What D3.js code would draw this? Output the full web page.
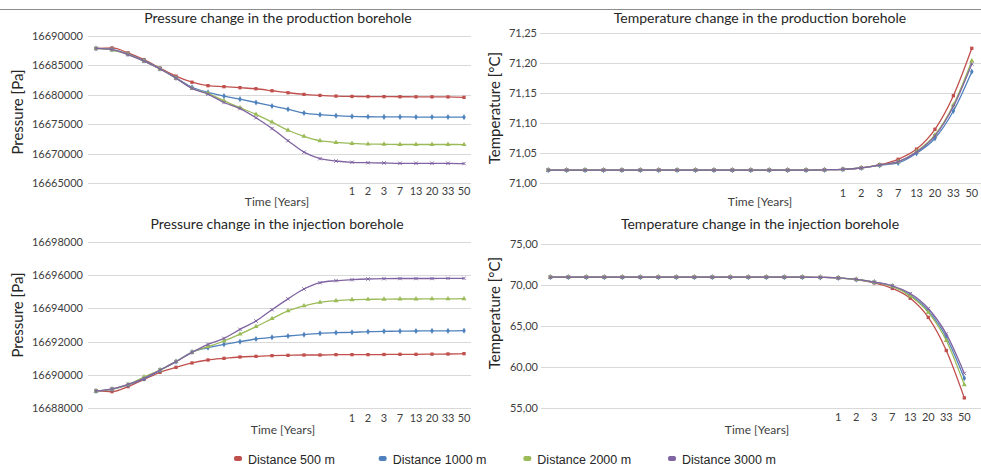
<!DOCTYPE html>
<html>
<head>
<meta charset="utf-8">
<script src="https://cdn.jsdelivr.net/npm/d3@7"></script>
<style>
  body { margin: 0; background: #fff; }
  svg { display: block; font-family: Lato, "Open Sans", sans-serif; }
</style>
</head>
<body>
<script>
/* global d3 */

// Constants
const width = 981;
const height = 466;

// Categories (first 16 steps carry no label)
const timeLabels = ['', '', '', '', '', '', '', '', '', '', '', '', '', '', '', '',
  '1', '2', '3', '7', '13', '20', '33', '50'];
const seriesNames = ['Distance 500 m', 'Distance 1000 m', 'Distance 2000 m', 'Distance 3000 m'];
const colors = ['#C0504D', '#4F81BD', '#9BBB59', '#8064A2'];

// Tick labels
const prodPressureTicks = [16665000, 16670000, 16675000, 16680000, 16685000, 16690000];
const prodTempTicks = [71.00, 71.05, 71.10, 71.15, 71.20, 71.25];
const injPressureTicks = [16688000, 16690000, 16692000, 16694000, 16696000, 16698000];
const injTempTicks = [55, 60, 65, 70, 75];

// Pressure in the production borehole [Pa]
const prodP500 = [16687880, 16687970, 16687140, 16685980, 16684550, 16683170, 16682140, 16681550,
  16681380, 16681210, 16681030, 16680690, 16680350, 16680070, 16679900, 16679780,
  16679720, 16679700, 16679680, 16679670, 16679660, 16679650, 16679640, 16679560];
const prodP1000 = [16687880, 16687700, 16686930, 16685810, 16684430, 16682880, 16681280, 16680410,
  16679780, 16679260, 16678690, 16678100, 16677540, 16676900, 16676620, 16676450,
  16676330, 16676270, 16676240, 16676240, 16676220, 16676220, 16676220, 16676200];
const prodP2000 = [16687880, 16687620, 16686880, 16685720, 16684380, 16682830, 16681100, 16680240,
  16678970, 16677830, 16676670, 16675350, 16673970, 16672930, 16672190, 16671900,
  16671730, 16671620, 16671590, 16671550, 16671550, 16671550, 16671550, 16671540];
const prodP3000 = [16687880, 16687700, 16686840, 16685720, 16684380, 16682830, 16681100, 16680120,
  16678690, 16677660, 16676100, 16674260, 16672190, 16670240, 16669140, 16668740,
  16668520, 16668450, 16668400, 16668350, 16668350, 16668350, 16668350, 16668300];

// Temperature in the production borehole [°C]
const prodT500 = [71.022, 71.022, 71.022, 71.022, 71.022, 71.022, 71.022, 71.022,
  71.022, 71.022, 71.022, 71.022, 71.022, 71.022, 71.022, 71.0225,
  71.0233, 71.0258, 71.031, 71.040, 71.057, 71.090, 71.146, 71.225];
const prodT1000 = [71.022, 71.022, 71.022, 71.022, 71.022, 71.022, 71.022, 71.022,
  71.022, 71.022, 71.022, 71.022, 71.022, 71.022, 71.022, 71.0225,
  71.0233, 71.0255, 71.030, 71.034, 71.050, 71.075, 71.1205, 71.186];
const prodT2000 = [71.022, 71.022, 71.022, 71.022, 71.022, 71.022, 71.022, 71.022,
  71.022, 71.022, 71.022, 71.022, 71.022, 71.022, 71.022, 71.0225,
  71.0233, 71.0255, 71.0305, 71.036, 71.053, 71.0805, 71.1305, 71.204];
const prodT3000 = [71.022, 71.022, 71.022, 71.022, 71.022, 71.022, 71.022, 71.022,
  71.022, 71.022, 71.022, 71.022, 71.022, 71.022, 71.022, 71.0225,
  71.0233, 71.0255, 71.0305, 71.036, 71.052, 71.079, 71.128, 71.199];

// Pressure in the injection borehole [Pa]
const injP500 = [16689040, 16689000, 16689300, 16689740, 16690160, 16690460, 16690720, 16690900,
  16691000, 16691080, 16691120, 16691160, 16691180, 16691200, 16691200, 16691220,
  16691220, 16691220, 16691230, 16691240, 16691240, 16691250, 16691260, 16691280];
const injP1000 = [16689040, 16689140, 16689400, 16689780, 16690280, 16690800, 16691380, 16691640,
  16691840, 16692000, 16692160, 16692260, 16692340, 16692420, 16692500, 16692540,
  16692560, 16692600, 16692620, 16692630, 16692640, 16692650, 16692650, 16692660];
const injP2000 = [16689040, 16689150, 16689420, 16689880, 16690300, 16690800, 16691360, 16691700,
  16692040, 16692450, 16692900, 16693380, 16693850, 16694150, 16694360, 16694460,
  16694520, 16694540, 16694550, 16694560, 16694560, 16694570, 16694570, 16694580];
const injP3000 = [16689040, 16689170, 16689440, 16689800, 16690300, 16690800, 16691360, 16691840,
  16692200, 16692740, 16693240, 16693920, 16694570, 16695160, 16695540, 16695660,
  16695720, 16695760, 16695780, 16695790, 16695790, 16695790, 16695800, 16695800];

// Temperature in the injection borehole [°C]
const injT500 = [70.98, 70.98, 70.98, 70.98, 70.98, 70.98, 70.98, 70.98,
  70.98, 70.98, 70.98, 70.98, 70.98, 70.98, 70.98, 70.95,
  70.89, 70.69, 70.28, 69.60, 68.39, 66.05, 62.00, 56.20];
const injT1000 = [70.98, 70.98, 70.98, 70.98, 70.98, 70.98, 70.98, 70.98,
  70.98, 70.98, 70.98, 70.98, 70.98, 70.98, 70.98, 70.95,
  70.89, 70.69, 70.36, 69.88, 68.75, 66.86, 63.63, 58.60];
const injT2000 = [70.98, 70.98, 70.98, 70.98, 70.98, 70.98, 70.98, 70.98,
  70.98, 70.98, 70.98, 70.98, 70.98, 70.98, 70.98, 70.95,
  70.89, 70.69, 70.36, 69.85, 68.68, 66.66, 63.23, 57.80];
const injT3000 = [70.98, 70.98, 70.98, 70.98, 70.98, 70.98, 70.98, 70.98,
  70.98, 70.98, 70.98, 70.98, 70.98, 70.98, 70.98, 70.95,
  70.89, 70.70, 70.38, 69.92, 68.96, 67.14, 64.03, 59.20];

const markers = [d3.symbolSquare, d3.symbolDiamond, d3.symbolTriangle, d3.symbolTimes];

const commaFormat = (f) => (d) => d3.format(f)(d).replace('.', ',');

// Make main svg
const svg = d3.select('body')
  .append('svg')
  .attr('width', width)
  .attr('height', height);

// Top rule
svg.append('line')
  .attr('x1', 0).attr('x2', width)
  .attr('y1', 9.5).attr('y2', 9.5)
  .attr('stroke', '#8c8c8c')
  .attr('stroke-width', 1);

function drawPanel(cfg) {
  const g = svg.append('g');

  const x = d3.scaleBand()
    .domain(d3.range(timeLabels.length))
    .range(cfg.xRange);
  const y = d3.scaleLinear()
    .domain(d3.extent(cfg.ticks))
    .range(cfg.yRange);

  // Gridlines
  g.append('g')
    .selectAll('line')
    .data(cfg.ticks)
    .join('line')
    .attr('x1', cfg.gridX[0])
    .attr('x2', cfg.gridX[1])
    .attr('y1', (d) => Math.round(y(d)) + 0.5)
    .attr('y2', (d) => Math.round(y(d)) + 0.5)
    .attr('stroke', '#d9d9d9')
    .attr('stroke-width', 1);

  // Y axis
  const yAxisG = g.append('g')
    .attr('transform', `translate(${cfg.yLabelX},0)`)
    .call(d3.axisLeft(y).tickValues(cfg.ticks).tickSize(0).tickPadding(0)
      .tickFormat(cfg.format));
  yAxisG.select('.domain').remove();
  yAxisG.selectAll('text')
    .attr('fill', '#404040')
    .attr('font-size', '11px')
    .attr('font-family', 'Lato, sans-serif');

  // X axis
  const xAxisG = g.append('g')
    .attr('transform', `translate(0,${cfg.xLabelY})`)
    .call(d3.axisBottom(x).tickSize(0).tickPadding(0)
      .tickFormat((i) => timeLabels[i]));
  xAxisG.select('.domain').remove();
  xAxisG.selectAll('text')
    .attr('dy', null)
    .attr('y', 0)
    .attr('fill', '#404040')
    .attr('font-size', '11px')
    .attr('font-family', 'Lato, sans-serif');

  // Title
  g.append('text')
    .attr('x', cfg.titleX)
    .attr('y', cfg.titleY)
    .attr('text-anchor', 'middle')
    .attr('fill', '#262626')
    .attr('font-size', '14px')
    .text(cfg.title);

  // X axis label
  g.append('text')
    .attr('x', cfg.timeX)
    .attr('y', cfg.timeY)
    .attr('text-anchor', 'middle')
    .attr('fill', '#404040')
    .attr('font-size', '12px')
    .text('Time [Years]');

  // Y axis label
  g.append('text')
    .attr('transform', `translate(${cfg.yTitleX},${cfg.yTitleY}) rotate(-90)`)
    .attr('text-anchor', 'middle')
    .attr('fill', '#262626')
    .attr('font-size', '15px')
    .text(cfg.yTitle);

  // Lines
  const line = d3.line()
    .x((d, i) => x(i) + x.bandwidth() / 2)
    .y((d) => y(d))
    .curve(d3.curveMonotoneX);

  cfg.series.forEach((values, s) => {
    const sg = g.append('g');
    sg.append('path')
      .datum(values)
      .attr('fill', 'none')
      .attr('stroke', colors[s])
      .attr('stroke-width', 1.3)
      .attr('d', line);

    const isStroke = s === 3;
    sg.selectAll('path.mark')
      .data(values)
      .join('path')
      .attr('class', 'mark')
      .attr('transform', (d, i) => `translate(${x(i) + x.bandwidth() / 2},${y(d)})`)
      .attr('d', d3.symbol().type(markers[s]).size(isStroke ? 9 : 11))
      .attr('fill', isStroke ? 'none' : colors[s])
      .attr('stroke', isStroke ? colors[s] : 'none')
      .attr('stroke-width', 1);
  });
}

drawPanel({
  title: 'Pressure change in the production borehole',
  yTitle: 'Pressure [Pa]',
  ticks: prodPressureTicks,
  format: d3.format('d'),
  series: [prodP500, prodP1000, prodP2000, prodP3000],
  xRange: [88, 472],
  yRange: [183, 36],
  gridX: [88, 471],
  yLabelX: 83,
  xLabelY: 195,
  titleX: 278, titleY: 23,
  timeX: 277, timeY: 206,
  yTitleX: 23, yTitleY: 112,
});

drawPanel({
  title: 'Temperature change in the production borehole',
  yTitle: 'Temperature [°C]',
  ticks: prodTempTicks,
  format: commaFormat('.2f'),
  series: [prodT500, prodT1000, prodT2000, prodT3000],
  xRange: [539, 981],
  yRange: [183.3, 33.3],
  gridX: [540, 981],
  yLabelX: 537,
  xLabelY: 197,
  titleX: 760, titleY: 23,
  timeX: 760, timeY: 206,
  yTitleX: 500, yTitleY: 108,
});

drawPanel({
  title: 'Pressure change in the injection borehole',
  yTitle: 'Pressure [Pa]',
  ticks: injPressureTicks,
  format: d3.format('d'),
  series: [injP500, injP1000, injP2000, injP3000],
  xRange: [88, 472],
  yRange: [408.3, 241.7],
  gridX: [88, 471],
  yLabelX: 83,
  xLabelY: 422,
  titleX: 277, titleY: 229,
  timeX: 283, timeY: 434,
  yTitleX: 23, yTitleY: 315,
});

drawPanel({
  title: 'Temperature change in the injection borehole',
  yTitle: 'Temperature [°C]',
  ticks: injTempTicks,
  format: commaFormat('.2f'),
  series: [injT500, injT1000, injT2000, injT3000],
  xRange: [541.3, 973.3],
  yRange: [407.7, 244.3],
  gridX: [541, 981],
  yLabelX: 538,
  xLabelY: 421,
  titleX: 760, titleY: 229,
  timeX: 757, timeY: 434,
  yTitleX: 500, yTitleY: 313,
});

// Legend
const legendX = d3.scalePoint()
  .domain(seriesNames)
  .range([238, 672]);

const legend = svg.append('g')
  .attr('transform', 'translate(0,459)');

const items = legend.selectAll('g')
  .data(seriesNames)
  .join('g')
  .attr('transform', (d) => `translate(${legendX(d)},0)`);

items.append('rect')
  .attr('x', -4)
  .attr('y', -3)
  .attr('width', 8)
  .attr('height', 5)
  .attr('rx', 2)
  .attr('fill', (d, i) => colors[i]);

items.append('text')
  .attr('x', 10)
  .attr('y', 4.5)
  .attr('fill', '#262626')
  .attr('font-size', '12.5px')
  .attr('font-family', '"Liberation Sans", Arial, sans-serif')
  .text((d) => d);
</script>
</body>
</html>
